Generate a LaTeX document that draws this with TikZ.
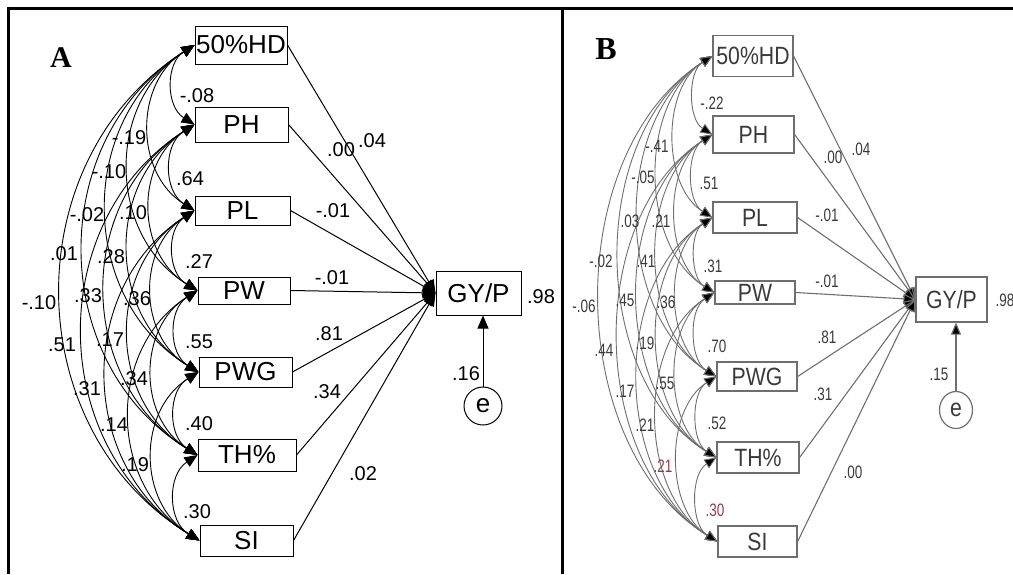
\documentclass[tikz,border=0pt]{standalone}
\usepackage{fontspec}
\setmainfont{Liberation Sans}
\newfontfamily\titlefont{Liberation Serif}
\newfontfamily\boxnarrow[FakeStretch=0.85]{Liberation Sans}
\newfontfamily\labnarrow[FakeStretch=0.75]{Liberation Sans}
\usetikzlibrary{arrows.meta,shapes.geometric}

\definecolor{greyline}{HTML}{6E6E6E}
\definecolor{greytext}{HTML}{3A3A3A}
\definecolor{redlab}{HTML}{8E3A4C}

\tikzset{
  tipA/.tip={Triangle[length=6.5pt,width=5.5pt]},
  tipB/.tip={Triangle[length=6pt,width=5pt]},
  varA/.style={draw, line width=0.5pt, inner sep=0pt, font=\fontsize{13}{13}\selectfont},
  varB/.style={draw=greyline, line width=0.6pt, inner sep=0pt, text=greytext, font=\boxnarrow\fontsize{12.5}{12.5}\selectfont},
  labA/.style={inner sep=0pt, font=\fontsize{10}{10}\selectfont},
  labB/.style={inner sep=0pt, text=greytext, font=\labnarrow\fontsize{9}{9}\selectfont},
  covA/.style={draw, line width=0.45pt, tipA-tipA, bend right=58, looseness=1.1},
  covB/.style={draw=greyline, line width=0.45pt, {tipB[fill=black]}-{tipB[fill=black]}, bend right=58, looseness=0.95},
  pathA/.style={draw, line width=0.5pt, -tipA},
  pathB/.style={draw=greyline, line width=0.55pt, -{tipB[fill=black]}},
  frame/.style={line width=1.5pt},
}

\begin{document}
\begin{tikzpicture}[x=0.5pt,y=-0.5pt]
\clip (0,0) rectangle (1013,574);
\useasboundingbox (0,0) rectangle (1013,574);

% table frame
\draw[frame] (7,8) -- (1013,8);
\draw[frame] (8,7) -- (8,574);
\draw[frame] (562,8) -- (562,574);

% ---------------- panel A ----------------
\node[font=\titlefont\bfseries\fontsize{15}{15}\selectfont] (titleA) at (61,58) {A};

\node[varA, minimum width=46pt,   minimum height=19pt]   (a1) at (241,45)    {50\%HD};
\node[varA, minimum width=46.5pt, minimum height=17.5pt] (a2) at (241.5,124.5) {PH};
\node[varA, minimum width=47.5pt, minimum height=14.5pt] (a3) at (242.5,210.5) {PL};
\node[varA, minimum width=46pt,   minimum height=13.5pt] (a4) at (244,290.5) {PW};
\node[varA, minimum width=46.5pt, minimum height=15pt]   (a5) at (245.5,372) {PWG};
\node[varA, minimum width=49pt,   minimum height=16pt]   (a6) at (247,455)   {TH\%};
\node[varA, minimum width=46.5pt, minimum height=15.5pt] (a7) at (246.5,540.5) {SI};
\node[varA, minimum width=42.5pt, minimum height=22pt]   (ya) at (478.5,293) {GY/P};
\node[varA, circle, minimum size=19pt] (ea) at (483,406) {e};

% correlations among predictors
\foreach \i in {1,...,6}{
  \pgfmathtruncatemacro\nx{\i+1}
  \foreach \j in {\nx,...,7}{
    \draw[covA] (a\i.west) to (a\j.west);
  }
}

% direct paths
\foreach \i in {1,...,7}{
  \draw[pathA] (a\i.east) -- (ya.west);
}
\draw[pathA] (ea.north) -- (ea.north |- ya.south);

% path coefficients
\node[labA] (pa1) at (341,150) {.00};
\node[labA] (pa1b) at (372,141) {.04};
\node[labA] (pa3) at (333,211) {-.01};
\node[labA] (pa4) at (332,278) {-.01};
\node[labA] (pa5) at (329,334) {.81};
\node[labA] (pa6) at (327,392) {.34};
\node[labA] (pa7) at (363,474) {.02};
\node[labA] (pe)  at (466,374) {.16};
\node[labA] (r2a) at (541,297) {.98};

% correlation coefficients
\node[labA] at (197,96)  {-.08};
\node[labA] at (190,179) {.64};
\node[labA] at (199,262) {.27};
\node[labA] at (199,342) {.55};
\node[labA] at (199,424) {.40};
\node[labA] at (197,512) {.30};
\node[labA] at (129,138) {-.19};
\node[labA] at (133,213) {.10};
\node[labA] at (137,299) {.36};
\node[labA] at (134,379) {.34};
\node[labA] at (135,465) {.19};
\node[labA] at (109,172) {-.10};
\node[labA] at (111,257) {.28};
\node[labA] at (110,340) {.17};
\node[labA] at (114,425) {.14};
\node[labA] at (87,215)  {-.02};
\node[labA] at (88,296)  {.33};
\node[labA] at (87,389)  {.31};
\node[labA] at (64,254)  {.01};
\node[labA] at (62,345)  {.51};
\node[labA] at (39,303)  {-.10};

% ---------------- panel B ----------------
\node[font=\titlefont\bfseries\fontsize{16}{16}\selectfont] (titleB) at (606,49) {B};

\node[varB, minimum width=40pt,   minimum height=20.5pt] (b1) at (753,56)    {50\%HD};
\node[varB, minimum width=40.5pt, minimum height=18.5pt] (b2) at (753.5,134.5) {PH};
\node[varB, minimum width=42pt,   minimum height=15.5pt] (b3) at (755,217.5) {PL};
\node[varB, minimum width=40pt,   minimum height=11.5pt] (b4) at (755,292.5) {PW};
\node[varB, minimum width=40pt,   minimum height=14.5pt] (b5) at (757,376.5) {PWG};
\node[varB, minimum width=41pt,   minimum height=15.5pt] (b6) at (758,457.5) {TH\%};
\node[varB, minimum width=39.5pt, minimum height=15.5pt] (b7) at (757.5,541.5) {SI};
\node[varB, minimum width=35.5pt, minimum height=22.5pt] (yb) at (951.5,299.5) {GY/P};
\node[varB, ellipse, minimum width=16.5pt, minimum height=18.5pt] (eb) at (956,410) {e};

\foreach \i in {1,...,6}{
  \pgfmathtruncatemacro\nx{\i+1}
  \foreach \j in {\nx,...,7}{
    \draw[covB] (b\i.west) to (b\j.west);
  }
}

\foreach \i in {1,...,7}{
  \draw[pathB] (b\i.east) -- (yb.west);
}
\draw[pathB] (eb.north) -- (eb.north |- yb.south);

\node[labB] (pb1) at (833,157) {.00};
\node[labB] (pb1b) at (861,149) {.04};
\node[labB] (pb3) at (827,215) {-.01};
\node[labB] (pb4) at (827,281) {-.01};
\node[labB] (pb5) at (827,337) {.81};
\node[labB] (pb6) at (823,394) {.31};
\node[labB] (pb7) at (853,472) {.00};
\node[labB] (pbe) at (939,374) {.15};
\node[labB] (r2b) at (1005,300) {.98};

\node[labB] at (712,103) {-.22};
\node[labB] at (709,183) {.51};
\node[labB] at (713,266) {.31};
\node[labB] at (717,346) {.70};
\node[labB] at (717,423) {.52};
\node[labB, text=redlab] at (715,510) {.30};
\node[labB] at (657,146) {-.41};
\node[labB] at (661,221) {.21};
\node[labB] at (666,302) {.36};
\node[labB] at (665,383) {.55};
\node[labB, text=redlab] at (663,466) {.21};
\node[labB] at (643,177) {-.05};
\node[labB] at (646,261) {.41};
\node[labB] at (645,343) {.19};
\node[labB] at (645,425) {.21};
\node[labB] at (630,221) {.03};
\node[labB] at (625,300) {.45};
\node[labB] at (625,391) {.17};
\node[labB] at (601,261) {-.02};
\node[labB] at (604,350) {.44};
\node[labB] at (584,306) {-.06};
\end{tikzpicture}
\end{document}
